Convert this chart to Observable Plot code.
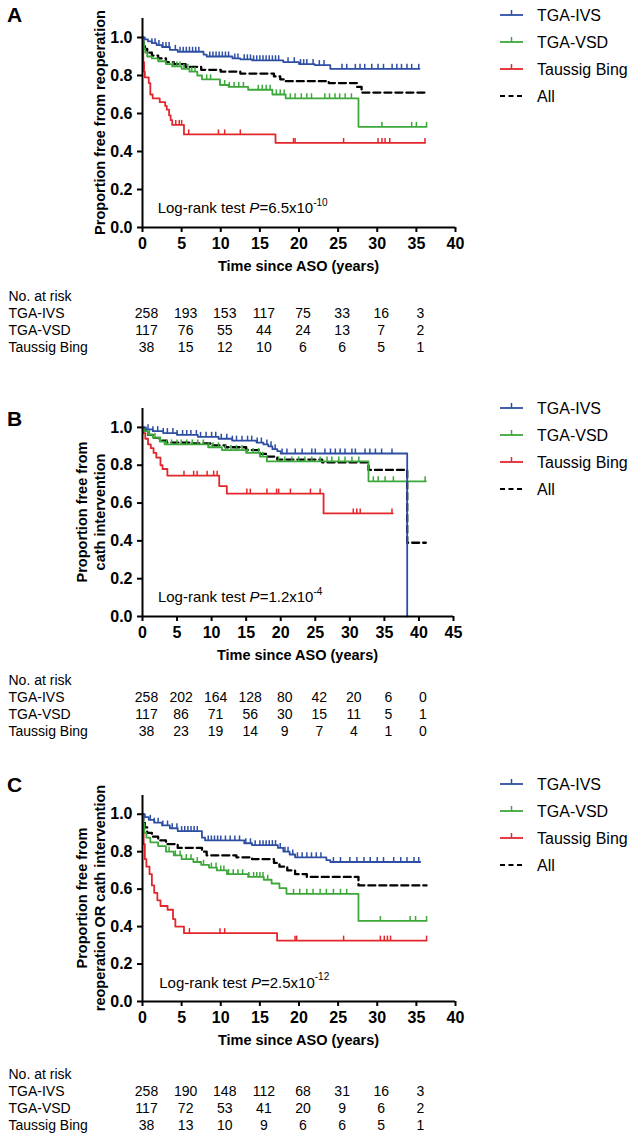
<!DOCTYPE html>
<html><head><meta charset="utf-8">
<script src="https://cdn.jsdelivr.net/npm/d3@7"></script>
<script src="https://cdn.jsdelivr.net/npm/@observablehq/plot@0.6"></script>
<style>
html,body{margin:0;padding:0;background:#fff;}
#root{position:relative;width:633px;height:1138px;overflow:hidden;font-family:"Liberation Sans",Arial,Helvetica,sans-serif;}
#root svg{position:absolute;left:0;overflow:visible;}
#root svg.kmchart g[aria-label*="axis"] line,#root svg.kmchart g[aria-label*="axis"] path,#root svg.kmchart .tick line{stroke-width:2px;stroke:#000;}
#root svg.kmchart g[aria-label*="axis"] text,#root svg.kmchart .tick text{font-size:16px;font-weight:bold;fill:#000;}
</style></head>
<body><div id="root"></div>
<script>
// ---------- DATA ----------
const groupKeys = ["IVS","VSD","TB","All"];
const groupNames = ["TGA-IVS","TGA-VSD","Taussig Bing","All"];
const yTicks = [0,0.2,0.4,0.6,0.8,1.0];
const xTicks40 = [0,5,10,15,20,25,30,35,40];
const xTicks45 = [0,5,10,15,20,25,30,35,40,45];
const riskRowLabels = ["No. at risk","TGA-IVS","TGA-VSD","Taussig Bing"];

// Panel A: reoperation  [time (years), proportion]
const A_IVS = [[0,1],[0.3,0.99],[0.7,0.98],[1.2,0.97],[1.8,0.96],[2.5,0.95],[3.5,0.935],[4.5,0.925],[7.8,0.91],[8.2,0.9],[11.5,0.89],[12.5,0.885],[14,0.88],[18,0.87],[20,0.86],[22,0.855],[24,0.835],[35.4,0.835]];
const A_VSD = [[0,1],[0.1,0.97],[0.2,0.94],[0.35,0.92],[0.6,0.9],[1.2,0.89],[2,0.875],[3,0.86],[3.8,0.848],[5,0.835],[6,0.82],[7,0.8],[7.6,0.78],[9.9,0.75],[11,0.74],[13.5,0.725],[16.6,0.7],[18.3,0.68],[27.6,0.53],[36.3,0.53]];
const A_TB = [[0,1],[0.05,0.95],[0.1,0.87],[0.2,0.82],[0.3,0.79],[0.8,0.76],[1.0,0.7],[1.3,0.68],[2.2,0.66],[2.9,0.64],[3.1,0.62],[3.4,0.59],[3.6,0.565],[3.8,0.54],[5.3,0.49],[17,0.445],[36.1,0.445]];
const A_All = [[0,1],[0.1,0.97],[0.3,0.94],[0.6,0.92],[1.2,0.905],[2,0.89],[3,0.87],[4,0.86],[5.5,0.845],[7.5,0.83],[10,0.82],[12.5,0.81],[16.8,0.795],[17.6,0.78],[18.2,0.77],[23.8,0.76],[27.4,0.74],[28,0.71],[36.3,0.71]];
const A_IVS_cens = [1.2,1.6,2.1,2.6,3.0,3.4,4.2,4.8,5.2,5.6,6.0,6.4,6.8,7.2,8.6,9.0,9.4,9.8,10.2,10.6,11.0,11.8,12.2,13.0,13.4,13.8,14.2,14.6,15.0,15.4,15.8,16.2,16.6,17.0,17.4,18.6,19.4,20.2,20.6,21.0,21.8,22.6,23.2,25.5,26.1,27.2,27.8,28.4,29.3,30.1,30.8,31.9,32.5,33.1,33.8,34.4,35.3];
const A_VSD_cens = [3.9,4.4,4.8,5.3,5.8,6.3,6.7,8.2,8.7,9.9,10.5,11.1,11.7,12.3,12.9,14.8,15.3,15.8,16.3,17.1,17.6,18.1,18.9,19.5,20.3,21.0,21.6,23.3,23.9,24.6,25.2,25.9,26.7,30.6,34.4,35.0,36.3];
const A_TB_cens = [4.25,4.7,5.0,5.9,9.7,10.5,12.5,19.3,19.5,25.7,30.1,30.6,31.0,31.6,36.1];
const A_riskTimes = [0,5,10,15,20,25,30,35];
const A_riskIVS = [258,193,153,117,75,33,16,3];
const A_riskVSD = [117,76,55,44,24,13,7,2];
const A_riskTB = [38,15,12,10,6,6,5,1];

// Panel B: cath intervention
const B_IVS = [[0,1],[0.5,0.99],[1.5,0.98],[3,0.97],[5,0.96],[8,0.95],[11,0.94],[13,0.93],[16.5,0.92],[17.5,0.91],[18.2,0.9],[18.8,0.885],[19.5,0.875],[20,0.862],[38.3,0]];
const B_VSD = [[0,1],[0.2,0.98],[0.8,0.96],[1.5,0.945],[2.5,0.925],[3.2,0.91],[9.5,0.895],[11.5,0.88],[15,0.865],[17,0.845],[18,0.82],[32.7,0.715],[41,0.715]];
const B_TB = [[0,1],[0.1,0.97],[0.4,0.94],[0.8,0.91],[1.2,0.89],[1.6,0.865],[2,0.84],[2.6,0.8],[2.9,0.78],[3.6,0.745],[11.1,0.69],[12.2,0.65],[26.2,0.545],[36.2,0.545]];
const B_All = [[0,1],[0.2,0.98],[0.8,0.96],[1.5,0.945],[2.5,0.93],[3.5,0.92],[7,0.915],[10,0.905],[12,0.895],[15,0.88],[17,0.86],[18,0.845],[19.5,0.83],[26,0.815],[32.7,0.775],[38.3,0.39],[41,0.39]];
const B_IVS_cens = [0.8,1.5,2.2,3.0,3.6,4.4,5.0,5.8,6.4,7.0,7.8,8.4,9.2,10.0,10.6,11.4,12.2,13.0,13.6,14.4,15.2,15.8,16.6,17.2,18.0,18.6,19.2,20.2,20.9,22.1,23.1,24.5,25.0,26.4,27.2,27.9,28.6,29.3,30.3,30.8,32.2,32.9,33.7,34.6,36.1];
const B_VSD_cens = [1.0,1.8,2.6,3.5,4.2,5.0,5.6,6.4,7.2,8.0,8.8,9.6,10.2,11.0,12.0,12.8,13.6,14.4,15.2,16.0,16.8,17.4,19.7,20.6,21.6,22.6,23.5,24.5,25.7,26.7,27.4,28.4,29.3,30.3,31.3,33.4,34.1,35.1,36.3,40.9];
const B_TB_cens = [6.0,7.4,7.9,9.35,10.3,10.8,15.1,15.6,18.0,19.4,19.7,21.4,24.3,25.7,30.5,31.0,31.5,36.1];
const B_riskTimes = [0,5,10,15,20,25,30,35,40];
const B_riskIVS = [258,202,164,128,80,42,20,6,0];
const B_riskVSD = [117,86,71,56,30,15,11,5,1];
const B_riskTB = [38,23,19,14,9,7,4,1,0];

// Panel C: reoperation OR cath intervention
const C_IVS = [[0,1],[0.3,0.985],[0.8,0.97],[1.5,0.955],[2.5,0.94],[3.5,0.925],[4.5,0.91],[7.6,0.875],[8,0.86],[13,0.845],[14,0.835],[17.3,0.82],[18,0.8],[18.8,0.785],[19.5,0.77],[23.5,0.755],[24,0.745],[35.5,0.745]];
const C_VSD = [[0,1],[0.1,0.95],[0.25,0.9],[0.5,0.875],[1,0.85],[2,0.83],[3,0.8],[4,0.78],[5,0.76],[6.5,0.745],[7.5,0.73],[8.5,0.715],[9.5,0.7],[10.8,0.68],[13.5,0.665],[15.5,0.65],[16.5,0.63],[17.5,0.605],[18.4,0.575],[27.6,0.43],[36.3,0.43]];
const C_TB = [[0,1],[0.05,0.92],[0.15,0.84],[0.3,0.76],[0.5,0.72],[0.9,0.68],[1.2,0.62],[1.5,0.58],[1.9,0.54],[2.3,0.51],[3.2,0.49],[3.9,0.44],[4.2,0.4],[5.3,0.365],[17.2,0.325],[36.3,0.325]];
const C_All = [[0,1],[0.1,0.96],[0.3,0.93],[0.6,0.9],[1.2,0.88],[2,0.86],[3,0.84],[4.5,0.82],[7.6,0.8],[8.2,0.78],[12,0.77],[14,0.76],[16.8,0.74],[17.5,0.72],[18.5,0.7],[19.5,0.68],[21,0.665],[27.6,0.62],[36.3,0.62]];
const C_IVS_cens = [1.0,1.5,2.0,2.6,3.2,3.8,4.4,5.0,5.4,5.8,6.2,6.6,7.0,8.4,8.8,9.2,9.6,10.0,10.6,11.2,11.8,12.4,13.2,13.8,14.4,15.0,15.4,15.8,16.2,16.6,17.0,17.6,18.2,18.6,19.2,19.8,20.4,21.0,21.6,22.2,22.8,24.4,25.3,26.5,27.4,28.3,29.1,30.0,30.8,32.1,33.0,33.8,34.7,35.3];
const C_VSD_cens = [3.4,4.2,4.8,5.6,6.2,7.0,7.8,8.8,9.4,10.0,10.4,11.0,11.6,12.2,12.8,13.6,14.2,14.6,15.0,15.4,16.0,19.3,20.1,21.0,21.8,22.7,23.5,24.4,25.3,26.1,30.4,34.2,34.9,36.3];
const C_TB_cens = [6.0,9.9,10.5,19.5,19.7,25.7,30.4,30.9,31.3,31.7,36.3];
const C_riskTimes = [0,5,10,15,20,25,30,35];
const C_riskIVS = [258,190,148,112,68,31,16,3];
const C_riskVSD = [117,72,53,41,20,9,6,2];
const C_riskTB = [38,13,10,9,6,6,5,1];

// ---------- STYLE / LAYOUT ----------
const FONT = '"Liberation Sans", Arial, Helvetica, sans-serif';
const colors = {IVS:"#2D4EA2", VSD:"#3CA83A", TB:"#E3262B", All:"#000000"};
const W = 633;

const panels = [
  {letter:"A", letterY:15, axisTop:18, axisBottom:227, xRight:455, xMax:40, xTicks:xTicks40,
   curves:{IVS:A_IVS, VSD:A_VSD, TB:A_TB, All:A_All}, cens:{IVS:A_IVS_cens, VSD:A_VSD_cens, TB:A_TB_cens},
   yTitle:["Proportion free from reoperation"], p:["6.5","-10"], pAt:[2.0,0.1], legendY:15,
   risk:{times:A_riskTimes, IVS:A_riskIVS, VSD:A_riskVSD, TB:A_riskTB}, riskY:295},
  {letter:"B", letterY:419, axisTop:408, axisBottom:616, xRight:453, xMax:45, xTicks:xTicks45,
   curves:{IVS:B_IVS, VSD:B_VSD, TB:B_TB, All:B_All}, cens:{IVS:B_IVS_cens, VSD:B_VSD_cens, TB:B_TB_cens},
   yTitle:["Proportion free from","cath intervention"], p:["1.2","-4"], pAt:[2.3,0.1], legendY:408,
   risk:{times:B_riskTimes, IVS:B_riskIVS, VSD:B_riskVSD, TB:B_riskTB}, riskY:679},
  {letter:"C", letterY:785, axisTop:795, axisBottom:1001, xRight:455, xMax:40, xTicks:xTicks40,
   curves:{IVS:C_IVS, VSD:C_VSD, TB:C_TB, All:C_All}, cens:{IVS:C_IVS_cens, VSD:C_VSD_cens, TB:C_TB_cens},
   yTitle:["Proportion free from","reoperation OR cath intervention"], p:["2.5","-12"], pAt:[2.2,0.1], legendY:784,
   risk:{times:C_riskTimes, IVS:C_riskIVS, VSD:C_riskVSD, TB:C_riskTB}, riskY:1073}
];

const root = document.getElementById("root");
const tickSym = {draw(ctx){ ctx.moveTo(0,0); ctx.lineTo(0,-5); }};
function stepAt(curve, t){ let s = curve[0][1]; for (const [ti,si] of curve){ if (ti <= t) s = si; else break; } return s; }

for (const P of panels) {
  const svgTop = P.axisTop - 18;
  const marginTop = 18, marginBottom = 70;
  const innerH = P.axisBottom - P.axisTop;
  const marks = [];
  for (const k of ["All","TB","VSD","IVS"]) {
    const rows = P.curves[k].map(([t,s]) => ({t, s}));
    marks.push(Plot.line(rows, {x:"t", y:"s", curve:"step-after", stroke: colors[k],
      strokeWidth: k === "All" ? 2.3 : 1.8, strokeDasharray: k === "All" ? "7,4" : null}));
    if (P.cens[k]) {
      const crow = P.cens[k].map(t => ({t, s: stepAt(P.curves[k], t)}));
      marks.push(Plot.dot(crow, {x:"t", y:"s", symbol: tickSym, r:3, fill:"none", stroke: colors[k], strokeWidth:1.5}));
    }
  }
  marks.push(Plot.ruleY([0], {stroke:"#000", strokeWidth:2}));
  marks.push(Plot.ruleX([0], {stroke:"#000", strokeWidth:2}));

  const chart = Plot.plot({
    width: W, height: marginTop + innerH + marginBottom,
    marginTop, marginBottom, marginLeft: 142, marginRight: W - P.xRight,
    style: {fontFamily: FONT, fontSize: "16px", fontWeight: "bold", color: "#000", background: "transparent", overflow: "visible"},
    x: {domain:[0, P.xMax], ticks: P.xTicks, tickSize: 5, tickPadding: 5, label: null, tickFormat: d => String(d)},
    y: {domain:[0, 1.1], ticks: yTicks, tickSize: 5, tickPadding: 5, label: null, tickFormat: d => d.toFixed(1)},
    marks
  });
  chart.classList.add("kmchart");
  chart.style.top = svgTop + "px";
  root.appendChild(chart);

  const sx = chart.scale("x"), sy = chart.scale("y");
  const xs = d3.scaleLinear(sx.domain, sx.range), ys = d3.scaleLinear(sy.domain, sy.range);
  const svg = d3.select(chart);
  const ox = xs(0), oy = ys(0);

  // x title
  svg.append("text").attr("x", (xs(0) + xs(P.xMax)) / 2).attr("y", oy + 39).attr("dy", "0.35em")
    .attr("text-anchor", "middle").attr("font-size", 14.5).attr("font-weight", "bold").attr("fill", "#000")
    .text("Time since ASO (years)");
  // y title
  const cy = (ys(0) + ys(1.1)) / 2;
  const lineXs = P.yTitle.length === 1 ? [100] : [82, 100];
  P.yTitle.forEach((t, i) => {
    svg.append("text").attr("transform", `translate(${lineXs[i]},${cy}) rotate(-90)`).attr("dy", "0.35em")
      .attr("text-anchor", "middle").attr("font-size", 14.5).attr("font-weight", "bold").attr("fill", "#000").text(t);
  });
  // panel letter
  svg.append("text").attr("x", 7).attr("y", P.letterY - svgTop).attr("dy", "0.35em").attr("text-anchor", "start")
    .attr("font-size", 21).attr("font-weight", "bold").attr("fill", "#000").text(P.letter);
  // log-rank text
  const lt = svg.append("text").attr("x", xs(P.pAt[0])).attr("y", ys(P.pAt[1])).attr("dy", "0.35em")
    .attr("text-anchor", "start").attr("font-size", 15).attr("font-weight", "normal").attr("fill", "#000");
  lt.append("tspan").text("Log-rank test ");
  lt.append("tspan").attr("font-style", "italic").text("P");
  lt.append("tspan").text("=" + P.p[0] + "x10");
  lt.append("tspan").attr("font-size", 10).attr("dy", "-0.75em").text(P.p[1]);
  // legend
  groupKeys.forEach((k, i) => {
    const y = P.legendY - svgTop + i * 27;
    const g = svg.append("g");
    g.append("line").attr("x1", 500).attr("x2", 523).attr("y1", y).attr("y2", y)
      .attr("stroke", colors[k]).attr("stroke-width", k === "All" ? 2.2 : 1.8)
      .attr("stroke-dasharray", k === "All" ? "5,3.5" : null);
    if (k !== "All") g.append("line").attr("x1", 511.5).attr("x2", 511.5).attr("y1", y).attr("y2", y - 5)
      .attr("stroke", colors[k]).attr("stroke-width", 1.5);
    g.append("text").attr("x", 537).attr("y", y).attr("dy", "0.35em").attr("text-anchor", "start").attr("font-size", 16)
      .attr("font-weight", "normal").attr("fill", "#000").text(groupNames[i]);
  });

  // risk table
  const riskRows = [];
  P.risk.times.forEach((t, j) => {
    riskRows.push({t, row: "TGA-IVS", n: P.risk.IVS[j]});
    riskRows.push({t, row: "TGA-VSD", n: P.risk.VSD[j]});
    riskRows.push({t, row: "Taussig Bing", n: P.risk.TB[j]});
  });
  const table = Plot.plot({
    width: W, height: 75, marginTop: 0, marginBottom: 0, marginLeft: 8, marginRight: W - P.xRight,
    style: {fontFamily: FONT, fontSize: "14px", color: "#000", background: "transparent", overflow: "visible"},
    x: {domain:[0, P.xMax], range:[ox, xs(P.xMax)], axis: null},
    y: {type: "point", domain: riskRowLabels, range: [10, 10 + 3 * 17.5], padding: 0, axis: null},
    marks: [
      Plot.text(riskRowLabels, {y: d => d, text: d => d, frameAnchor: "left", textAnchor: "start", fill: "#000"}),
      Plot.text(riskRows, {x: "t", y: "row", text: "n", dx: 4, fill: "#000"})
    ]
  });
  table.style.top = (P.riskY - 10) + "px";
  root.appendChild(table);
}
</script></body></html>
